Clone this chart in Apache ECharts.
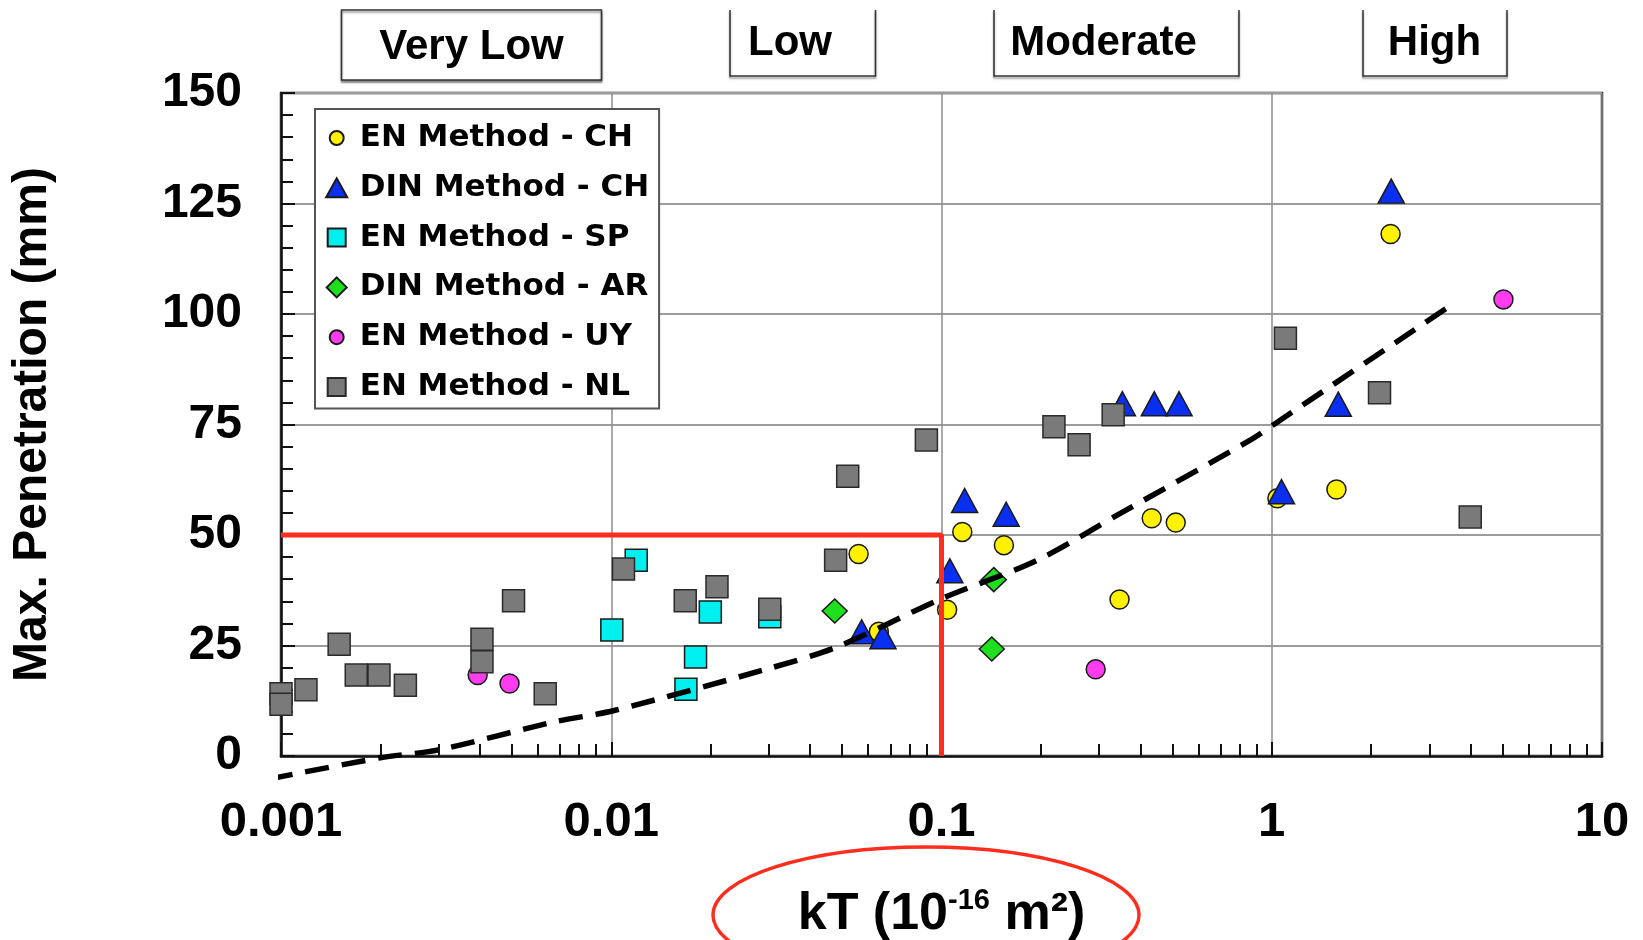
<!DOCTYPE html>
<html>
<head>
<meta charset="utf-8">
<title>kT vs Max. Penetration</title>
<script src="https://cdn.jsdelivr.net/npm/echarts@6/dist/echarts.min.js"></script>
<style>
    html, body { margin: 0; padding: 0; background: #fff; }
    #main { width: 1643px; height: 940px; }
</style>
</head>
<body>
<div id="main"></div>
<script>
// kT (10^-16 m2) vs max. penetration (mm)
var seriesNames = ['EN Method - CH', 'DIN Method - CH', 'EN Method - SP', 'DIN Method - AR', 'EN Method - UY', 'EN Method - NL']

var enCH = [[0.0561, 45.7], [0.0646, 28.1], [0.104, 33.1], [0.1156, 50.7], [0.1545, 47.7], [0.346, 35.4],
    [0.433, 53.8], [0.512, 52.8], [1.04, 58.3], [1.57, 60.3], [2.29, 118.1]]
var dinCH = [[0.0573, 28.1], [0.0665, 27.0], [0.106, 41.9], [0.1175, 57.8], [0.157, 54.7], [0.353, 79.7],
    [0.441, 79.7], [0.524, 79.7], [1.07, 59.8], [1.59, 79.6], [2.3, 127.8]]
var enSP = [[0.01004, 28.5], [0.0119, 44.3], [0.01683, 15.1], [0.0180, 22.4], [0.01995, 32.6], [0.0302, 31.5]]
var dinAR = [[0.0475, 32.8], [0.142, 24.2], [0.144, 39.9]]
var enUY = [[0.00394, 18.3], [0.00492, 16.4], [0.293, 19.6], [5.03, 103.3]]
var enNL = [[0.001, 14.1], [0.001, 11.7], [0.00119, 15.0], [0.0015, 25.3], [0.00169, 18.3], [0.00198, 18.3],
    [0.00238, 16.0], [0.00406, 26.4], [0.00406, 21.3], [0.00506, 35.1], [0.00631, 14.1], [0.01089, 42.3],
    [0.01675, 35.1], [0.0209, 38.3], [0.0302, 33.2], [0.0478, 44.3], [0.052, 63.3], [0.090, 71.5],
    [0.219, 74.5], [0.261, 70.4], [0.331, 77.2], [1.10, 94.5], [2.12, 82.2], [3.99, 54.1]]

// dashed trend curve, points picked along the drawn line
var trendLine = [[0.00092, -5.2], [0.002, -0.4], [0.003, 1.4], [0.0067, 7.7], [0.0102, 10.3], [0.03, 19.8],
    [0.0483, 24.7], [0.1, 35.6], [0.195, 44.3], [0.35, 55.0], [0.863, 71.5], [1.01, 74.9], [3.62, 102.8]]
// red 50 mm / 0.1 limit
var limitLine = [[0.001, 50], [0.1, 50], [0.1, 0]]

var xTickLabels = ['0.001', '0.01', '0.1', '1', '10']
var classLabels = ['Very Low', 'Low', 'Moderate', 'High']
var xTitle = ['kT (10', '-16', ' m²)']
var yTitle = 'Max. Penetration (mm)'

/* layout of the class boxes above the plot */
var classBoxes = [
    {x1: 341.5, x2: 601.5, bottom: 80, tx: 471.5, ty: 47, closed: true},
    {x1: 730, x2: 875.5, bottom: 76, tx: 790, ty: 43},
    {x1: 994, x2: 1239, bottom: 76, tx: 1103.5, ty: 43},
    {x1: 1363, x2: 1507, bottom: 76, tx: 1434.5, ty: 43}
]

var legendIcons = [
    'path://M0,0M22,22M4,11A7,7,0,1,1,18,11A7,7,0,1,1,4,11Z',
    'path://M0,0M22,22M11,1.5L21.5,20.5L0.5,20.5Z',
    'path://M0,0M22,22M2,2L20,2L20,20L2,20Z',
    'path://M0,0M22,22M11,1L21,11L11,21L1,11Z',
    'path://M0,0M22,22M4,11A7,7,0,1,1,18,11A7,7,0,1,1,4,11Z',
    'path://M0,0M22,22M2,2L20,2L20,20L2,20Z'
]

var arial = 'Liberation Sans'

function scatter(name, data, symbol, size, color, border) {
    return {
        name: name,
        type: 'scatter',
        data: data,
        symbol: symbol,
        symbolSize: size,
        itemStyle: {
            color: color,
            borderColor: border || '#1a1a1a',
            borderWidth: 1.5,
            opacity: 1
        },
        emphasis: {disabled: true}
    }
}

var graphics = []
classBoxes.forEach(function (b, i) {
    if (b.closed) {
        graphics.push({
            type: 'rect',
            shape: {x: b.x1, y: 10, width: b.x2 - b.x1, height: b.bottom - 10},
            style: {fill: '#fff', stroke: '#333', lineWidth: 1.5,
                shadowBlur: 2, shadowOffsetY: 2, shadowColor: 'rgba(0,0,0,0.45)'}
        })
    } else {
        graphics.push({
            type: 'polyline',
            shape: {points: [[b.x1, 10], [b.x1, b.bottom], [b.x2, b.bottom], [b.x2, 10]]},
            style: {fill: null, stroke: '#333', lineWidth: 1.5,
                shadowBlur: 2, shadowOffsetY: 2, shadowColor: 'rgba(0,0,0,0.45)'}
        })
    }
    graphics.push({
        type: 'text',
        x: b.tx,
        y: b.ty,
        style: {
            text: classLabels[i],
            fontSize: 42,
            fontWeight: 'bold',
            fontFamily: arial,
            fill: '#000',
            align: 'center',
            verticalAlign: 'middle'
        }
    })
})
// red ellipse round the x title
graphics.push({
    type: 'ellipse',
    shape: {cx: 926, cy: 915, rx: 213, ry: 68},
    style: {fill: null, stroke: '#ff2d1e', lineWidth: 3.5}
})

var chart = echarts.init(document.getElementById('main'), null, {renderer: 'canvas'})

var option = {
    animation: false,
    backgroundColor: '#fff',
    grid: {
        left: 281,
        right: 41,
        top: 93,
        bottom: 184,
        outerBoundsMode: 'none',
        containLabel: false,
        show: true,
        borderColor: '#222',
        borderWidth: 2.5,
        backgroundColor: 'transparent'
    },
    legend: {
        orient: 'vertical',
        left: 315,
        top: 109,
        data: seriesNames.map(function (n, i) {
            return {name: n, icon: legendIcons[i]}
        }),
        itemWidth: 22,
        itemHeight: 22,
        itemGap: 18.8,
        padding: [13.5, 10, 6, 9.7],
        backgroundColor: '#fff',
        borderColor: '#555',
        borderWidth: 2,
        selectedMode: false,
        textStyle: {
            fontFamily: 'DejaVu Sans',
            fontWeight: 'bold',
            fontSize: 31,
            color: '#000',
            padding: [0, 0, 0, 7]
        }
    },
    xAxis: {
        type: 'log',
        logBase: 10,
        min: 0.001,
        max: 10,
        axisLine: {lineStyle: {color: '#111', width: 2.5}},
        axisTick: {inside: true, length: 14, lineStyle: {color: '#111', width: 2}},
        minorTick: {show: true, splitNumber: 9, length: 12, lineStyle: {color: '#111', width: 2}},
        splitLine: {show: true, lineStyle: {color: '#8c8c8c', width: 1.5}},
        axisLabel: {
            margin: 42,
            fontSize: 49,
            fontWeight: 'bold',
            fontFamily: arial,
            color: '#000',
            formatter: function (v) {
                var i = Math.round(Math.log10(v)) + 3
                return xTickLabels[i] || ''
            }
        },
        name: '{a|' + xTitle[0] + '}{s|' + xTitle[1] + '}{a|' + xTitle[2] + '}',
        nameLocation: 'middle',
        nameGap: 130,
        nameTextStyle: {
            fontFamily: arial,
            fontWeight: 'bold',
            fontSize: 52,
            color: '#000',
            rich: {
                a: {fontFamily: arial, fontWeight: 'bold', fontSize: 52, lineHeight: 58, color: '#000'},
                s: {fontFamily: arial, fontWeight: 'bold', fontSize: 29, lineHeight: 29, color: '#000', verticalAlign: 'top'}
            }
        }
    },
    yAxis: {
        type: 'value',
        min: 0,
        max: 150,
        interval: 25,
        axisLine: {lineStyle: {color: '#111', width: 2.5}},
        axisTick: {inside: true, length: 14, lineStyle: {color: '#111', width: 2}},
        minorTick: {show: true, splitNumber: 5, length: 12, lineStyle: {color: '#111', width: 2}},
        splitLine: {show: true, lineStyle: {color: '#9c9c9c', width: 2}},
        axisLabel: {
            margin: 39,
            fontSize: 48,
            fontWeight: 'bold',
            fontFamily: arial,
            color: '#000'
        },
        name: yTitle,
        nameLocation: 'middle',
        nameRotate: 90,
        nameGap: 224,
        nameTextStyle: {
            fontFamily: arial,
            fontWeight: 'bold',
            fontSize: 48,
            lineHeight: 48,
            color: '#000'
        }
    },
    series: [
        {
            name: 'limit',
            type: 'line',
            data: limitLine,
            symbol: 'none',
            clip: false,
            silent: true,
            lineStyle: {color: '#ff2d1e', width: 5}
        },
        scatter(seriesNames[0], enCH, 'circle', 19, '#fff200'),
        scatter(seriesNames[1], dinCH, 'triangle', [26, 24], '#0a2ff0'),
        scatter(seriesNames[2], enSP, 'rect', 22, '#00f0f0'),
        scatter(seriesNames[3], dinAR, 'diamond', [25, 24], '#1ee01e'),
        scatter(seriesNames[4], enUY, 'circle', 19, '#ff3cf0'),
        scatter(seriesNames[5], enNL, 'rect', 22, '#7a7a7a', '#2a2a2a'),
        {
            name: 'trend',
            type: 'line',
            data: trendLine,
            smooth: 0.3,
            symbol: 'none',
            clip: false,
            silent: true,
            lineStyle: {color: '#000', width: 5.5, type: [24, 13]}
        }
    ],
    graphic: graphics
}

chart.setOption(option)
</script>
</body>
</html>
